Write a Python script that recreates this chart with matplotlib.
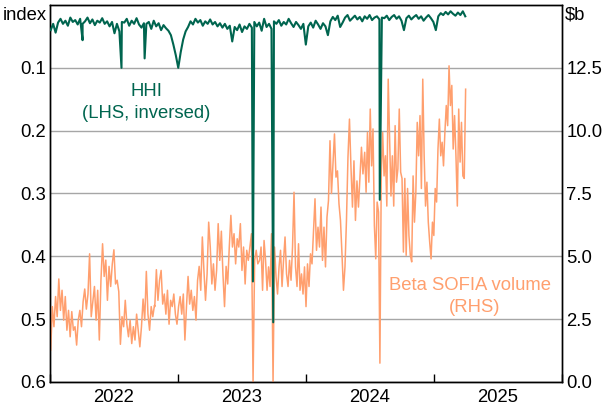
import matplotlib
matplotlib.use('Agg')
import matplotlib.pyplot as plt
import matplotlib.dates as mdates
import matplotlib.ticker as mticker
import pandas as pd

plt.rcParams['font.family'] = ['Liberation Sans', 'DejaVu Sans']
plt.rcParams['font.size'] = 13.3

GREEN = '#00654f'
ORANGE = '#ff9f6e'
GRID = '#a6a6a6'

# ---------------- data ----------------
# HHI (LHS, inverted), weekly observations starting 2022-01-03
hhi_start = '2022-01-03'
hhi = [
    0.040, 0.030, 0.044, 0.028, 0.022, 0.030, 0.025, 0.033, 0.020, 0.027,
    0.024, 0.031, 0.022, 0.030, 0.026, 0.020, 0.029, 0.023, 0.032, 0.025,
    0.028, 0.021, 0.030, 0.026, 0.034, 0.027, 0.045, 0.030, 0.042, 0.027,
    0.028, 0.022, 0.033, 0.025, 0.030, 0.021, 0.031, 0.036, 0.029, 0.030,
    0.027, 0.038, 0.025, 0.034, 0.029, 0.040, 0.032, 0.037, 0.041, 0.048,
    0.063, 0.080, 0.100, 0.075, 0.055, 0.042, 0.035, 0.026, 0.031, 0.022,
    0.028, 0.024, 0.033, 0.026, 0.030, 0.023, 0.031, 0.027, 0.034, 0.029,
    0.036, 0.030, 0.038, 0.033, 0.058, 0.035, 0.040, 0.031, 0.043, 0.034,
    0.038, 0.030, 0.036, 0.027, 0.034, 0.028, 0.041, 0.022, 0.035, 0.030,
    0.038, 0.026, 0.030, 0.024, 0.033, 0.027, 0.031, 0.022, 0.029, 0.035,
    0.027, 0.032, 0.038, 0.030, 0.063, 0.034, 0.028, 0.036, 0.025, 0.031,
    0.038, 0.029, 0.034, 0.048, 0.026, 0.019, 0.024, 0.017, 0.035, 0.028,
    0.020, 0.016, 0.025, 0.021, 0.017, 0.023, 0.019, 0.026, 0.018, 0.022,
    0.016, 0.024, 0.020, 0.018, 0.023, 0.020, 0.021, 0.017, 0.024, 0.019,
    0.016, 0.022, 0.018, 0.025, 0.040, 0.021, 0.017, 0.023, 0.019, 0.016,
    0.022, 0.018, 0.025, 0.020, 0.016, 0.021, 0.027, 0.040, 0.018, 0.013,
    0.016, 0.011, 0.015, 0.010, 0.014, 0.017, 0.012, 0.016, 0.010, 0.018,
]
# single-day HHI jumps
hhi_event_dates = ['2022-04-04', '2022-07-24', '2022-09-28',
                   '2023-08-03', '2023-09-30', '2024-07-30']
hhi_event_values = [0.056, 0.100, 0.085, 0.440, 0.505, 0.310]

# Beta SOFIA volume ($b, RHS), four stretches of roughly evenly spaced observations
vol_periods = [
    ('2022-01-03', '2022-10-26'),
    ('2022-10-27', '2023-08-17'),
    ('2023-08-22', '2024-06-12'),
    ('2024-06-17', '2025-04-01'),
]
vol_a = [
    1.27, 3.0, 2.2, 3.4, 2.6, 4.1, 2.85, 3.65, 2.46, 3.4,
    2.06, 2.85, 1.8, 2.8, 2.06, 2.2, 1.47, 2.46, 2.85, 2.2,
    3.2, 3.7, 2.9, 3.5, 5.1, 2.6, 3.2, 3.8, 2.46, 3.65,
    1.67, 4.05, 5.5, 4.2, 4.85, 3.25, 4.6, 3.8, 4.7, 5.26,
    3.9, 4.05, 3.6, 1.5, 2.6, 2.2, 3.25, 2.3, 1.8, 2.46,
    1.53, 2.2, 1.67, 2.7, 2.06, 1.4, 2.2, 3.3, 2.46, 4.4,
    2.7, 2.06, 3.0, 2.6, 3.05,
]
vol_b = [
    3.0, 4.47, 3.25, 4.05, 4.44, 3.1, 3.5, 2.7, 3.65, 2.3,
    3.25, 3.0, 3.5, 2.7, 2.3, 3.0, 3.4, 2.7, 3.5, 1.67,
    3.0, 4.2, 3.1, 3.65, 2.85, 3.4, 2.46, 4.05, 4.6, 3.65,
    5.77, 4.44, 3.25, 4.3, 6.36, 5.37, 3.9, 4.7, 3.65, 4.44,
    6.3, 4.84, 6.0, 4.3, 3.0, 4.6, 3.9, 5.37, 6.63, 5.37,
    5.9, 4.7, 5.7, 5.37, 6.3, 4.44, 5.37, 3.9, 5.24, 4.84,
    5.37, 5.9, 0.0, 4.84, 5.24, 4.7,
]
vol_c = [
    4.84, 5.37, 3.65, 5.63, 4.84, 3.65, 4.58, 3.8, 5.9, 0.0,
    5.37, 4.18, 3.5, 4.58, 5.24, 3.8, 4.84, 5.77, 4.3, 3.8,
    4.84, 4.05, 5.37, 7.55, 4.58, 3.8, 5.5, 3.65, 4.3, 3.5,
    4.58, 3.0, 4.7, 3.8, 5.1, 4.7, 6.03, 7.29, 5.24, 6.16,
    5.37, 6.96, 4.84, 6.16, 4.58, 6.56, 7.22, 9.6, 7.5, 8.68,
    9.87, 8.15, 8.4, 7.09, 6.43, 5.1, 3.65, 4.58, 6.43, 8.94,
    10.46, 8.55, 6.96, 8.8, 6.43, 8.0, 6.96, 8.15, 9.34, 8.28,
]
vol_d = [
    9.14, 7.55, 9.93, 7.95, 10.86, 8.6, 10.07, 6.23, 4.9, 7.16,
    6.76, 0.75, 8.35, 9.93, 8.2, 9.0, 7.0, 12.05, 9.67, 7.4,
    9.0, 7.0, 10.2, 7.95, 8.48, 10.86, 8.35, 8.1, 5.17, 8.1,
    5.04, 7.7, 5.83, 5.04, 4.78, 8.2, 6.36, 7.55, 10.33, 9.0,
    10.6, 7.7, 12.05, 9.0, 7.0, 7.95, 6.36, 5.57, 4.9, 6.36,
    5.83, 7.7, 7.16, 9.27, 10.46, 9.0, 9.54, 8.6, 9.93, 11.0,
    10.2, 12.58, 11.0, 11.8, 9.27, 10.6, 9.0, 7.0, 10.86, 8.75,
    10.33, 8.2, 8.1, 11.65,
]
vol_segments = [vol_a, vol_b, vol_c, vol_d]

left_ticks = [0.1, 0.2, 0.3, 0.4, 0.5, 0.6]
right_ticks = [0.0, 2.5, 5.0, 7.5, 10.0, 12.5]

# ---------------- build series ----------------
hhi_s = pd.Series(hhi, index=pd.date_range(hhi_start, periods=len(hhi), freq='7D'))
hhi_ev = pd.Series(hhi_event_values, index=pd.to_datetime(hhi_event_dates))
hhi_s = pd.concat([hhi_s, hhi_ev]).sort_index()

vol_parts = []
for (s, e), vals in zip(vol_periods, vol_segments):
    vol_parts.append(pd.Series(vals, index=pd.date_range(s, e, periods=len(vals))))
vol_s = pd.concat(vol_parts)

# ---------------- figure ----------------
fig = plt.figure(figsize=(6.04, 4.13), dpi=100)
ax = fig.add_axes([50 / 604, 31 / 413, 512 / 604, 377 / 413])
ax2 = ax.twinx()

# orange on RHS (underneath), green on LHS (on top)
ax.set_zorder(ax2.get_zorder() + 1)
ax.patch.set_visible(False)
ax2.patch.set_visible(True)
ax2.patch.set_facecolor('white')

ax2.plot(vol_s.index, vol_s.values, color=ORANGE, lw=1.1, zorder=3)
ax.plot(hhi_s.index, hhi_s.values, color=GREEN, lw=1.5, zorder=3)

ax.set_xlim(pd.Timestamp('2022-01-01'), pd.Timestamp('2026-01-01'))
ax.set_ylim(0.6, 0.0)
ax2.set_ylim(0.0, 15.0)

ax.set_yticks(left_ticks)
ax.yaxis.set_major_formatter(mticker.FormatStrFormatter('%.1f'))
ax2.set_yticks(right_ticks)
ax2.yaxis.set_major_formatter(mticker.FormatStrFormatter('%.1f'))
ax.tick_params(axis='y', length=0, pad=3)
ax2.tick_params(axis='y', length=0, pad=3)

ax2.yaxis.grid(True, color=GRID, lw=1)
ax2.set_axisbelow(True)

ax.xaxis.set_major_locator(mdates.YearLocator())
ax.xaxis.set_major_formatter(mticker.NullFormatter())
ax.xaxis.set_minor_locator(mdates.MonthLocator(bymonth=7, bymonthday=2))
ax.xaxis.set_minor_formatter(mdates.DateFormatter('%Y'))
ax.tick_params(axis='x', which='major', direction='in', length=6, width=1, top=False)
ax.tick_params(axis='x', which='minor', length=0, pad=5)

for a in (ax, ax2):
    for sp in a.spines.values():
        sp.set_color('black')
        sp.set_linewidth(1)

def fx(px):
    return px / 604

def fy(py):
    return 1 - py / 413

fig.text(fx(47), fy(15), 'index', ha='right', va='center')
fig.text(fx(565), fy(15), '$b', ha='left', va='center')
fig.text(fx(146), fy(92), 'HHI', ha='center', va='center', color=GREEN)
fig.text(fx(146), fy(113), '(LHS, inversed)', ha='center', va='center', color=GREEN)
fig.text(fx(470), fy(285), 'Beta SOFIA volume', ha='center', va='center', color=ORANGE)
fig.text(fx(475), fy(307), '(RHS)', ha='center', va='center', color=ORANGE)

fig.savefig('out.png', dpi=100, facecolor='white')
